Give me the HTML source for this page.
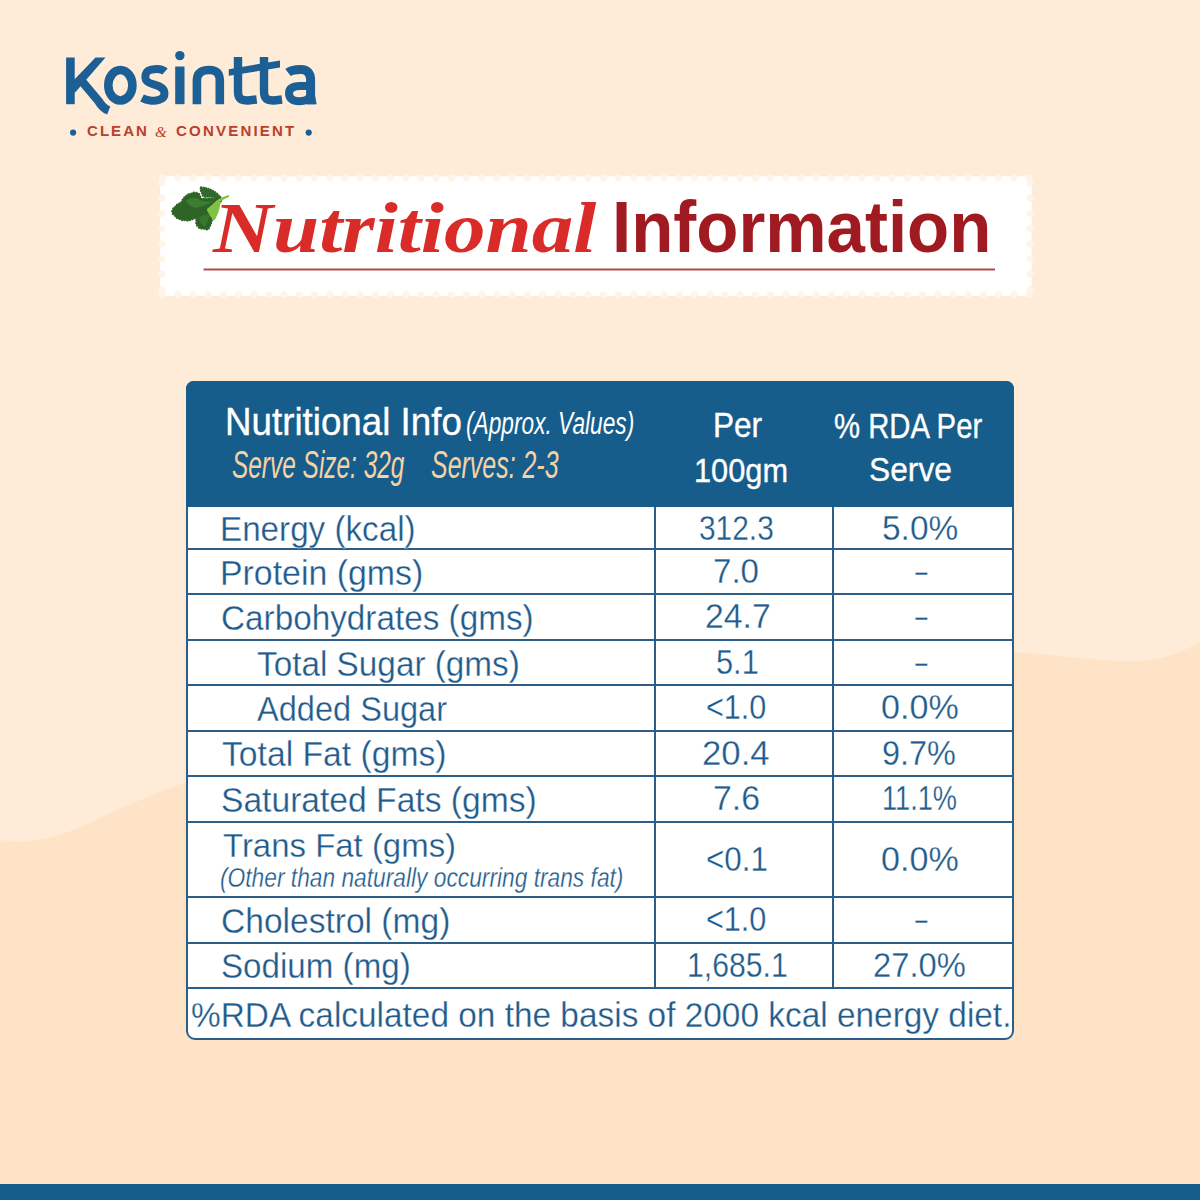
<!DOCTYPE html>
<html><head><meta charset="utf-8"><style>
html,body{margin:0;padding:0;}
body{width:1200px;height:1200px;position:relative;overflow:hidden;background:#feecd8;font-family:"Liberation Sans",sans-serif;}
.t{position:absolute;white-space:pre;line-height:1;transform-origin:0 0;}
svg{position:absolute;left:0;top:0;}
.hl{position:absolute;left:187px;width:826px;height:2px;background:#2c5e88;}
.vl{position:absolute;top:507px;height:481px;width:2px;background:#2c5e88;}
</style></head><body>
<svg width="1200" height="1200" viewBox="0 0 1200 1200">
<path d="M0,840 C30,845 60,838 100,818 C130,803 160,792 186,782 C386,702 763,635 1013,652 C1080,657 1120,664 1150,660 C1170,657 1185,650 1200,642 L1200,1200 L0,1200 Z" fill="#fee3c6"/>
<rect x="0" y="1184" width="1200" height="16" fill="#175d89"/>
<rect x="160" y="176.3" width="871.6" height="119.7" fill="#ffffff"/>
<g fill="#fff4e9"><circle cx="162.6" cy="177.8" r="3.6"/><circle cx="162.6" cy="294.5" r="3.6"/><circle cx="177.8" cy="177.8" r="3.6"/><circle cx="177.8" cy="294.5" r="3.6"/><circle cx="193.0" cy="177.8" r="3.6"/><circle cx="193.0" cy="294.5" r="3.6"/><circle cx="208.2" cy="177.8" r="3.6"/><circle cx="208.2" cy="294.5" r="3.6"/><circle cx="223.4" cy="177.8" r="3.6"/><circle cx="223.4" cy="294.5" r="3.6"/><circle cx="238.6" cy="177.8" r="3.6"/><circle cx="238.6" cy="294.5" r="3.6"/><circle cx="253.8" cy="177.8" r="3.6"/><circle cx="253.8" cy="294.5" r="3.6"/><circle cx="269.0" cy="177.8" r="3.6"/><circle cx="269.0" cy="294.5" r="3.6"/><circle cx="284.2" cy="177.8" r="3.6"/><circle cx="284.2" cy="294.5" r="3.6"/><circle cx="299.4" cy="177.8" r="3.6"/><circle cx="299.4" cy="294.5" r="3.6"/><circle cx="314.6" cy="177.8" r="3.6"/><circle cx="314.6" cy="294.5" r="3.6"/><circle cx="329.8" cy="177.8" r="3.6"/><circle cx="329.8" cy="294.5" r="3.6"/><circle cx="345.0" cy="177.8" r="3.6"/><circle cx="345.0" cy="294.5" r="3.6"/><circle cx="360.2" cy="177.8" r="3.6"/><circle cx="360.2" cy="294.5" r="3.6"/><circle cx="375.4" cy="177.8" r="3.6"/><circle cx="375.4" cy="294.5" r="3.6"/><circle cx="390.6" cy="177.8" r="3.6"/><circle cx="390.6" cy="294.5" r="3.6"/><circle cx="405.8" cy="177.8" r="3.6"/><circle cx="405.8" cy="294.5" r="3.6"/><circle cx="421.0" cy="177.8" r="3.6"/><circle cx="421.0" cy="294.5" r="3.6"/><circle cx="436.2" cy="177.8" r="3.6"/><circle cx="436.2" cy="294.5" r="3.6"/><circle cx="451.4" cy="177.8" r="3.6"/><circle cx="451.4" cy="294.5" r="3.6"/><circle cx="466.6" cy="177.8" r="3.6"/><circle cx="466.6" cy="294.5" r="3.6"/><circle cx="481.8" cy="177.8" r="3.6"/><circle cx="481.8" cy="294.5" r="3.6"/><circle cx="497.0" cy="177.8" r="3.6"/><circle cx="497.0" cy="294.5" r="3.6"/><circle cx="512.2" cy="177.8" r="3.6"/><circle cx="512.2" cy="294.5" r="3.6"/><circle cx="527.4" cy="177.8" r="3.6"/><circle cx="527.4" cy="294.5" r="3.6"/><circle cx="542.6" cy="177.8" r="3.6"/><circle cx="542.6" cy="294.5" r="3.6"/><circle cx="557.8" cy="177.8" r="3.6"/><circle cx="557.8" cy="294.5" r="3.6"/><circle cx="573.0" cy="177.8" r="3.6"/><circle cx="573.0" cy="294.5" r="3.6"/><circle cx="588.2" cy="177.8" r="3.6"/><circle cx="588.2" cy="294.5" r="3.6"/><circle cx="603.4" cy="177.8" r="3.6"/><circle cx="603.4" cy="294.5" r="3.6"/><circle cx="618.6" cy="177.8" r="3.6"/><circle cx="618.6" cy="294.5" r="3.6"/><circle cx="633.8" cy="177.8" r="3.6"/><circle cx="633.8" cy="294.5" r="3.6"/><circle cx="649.0" cy="177.8" r="3.6"/><circle cx="649.0" cy="294.5" r="3.6"/><circle cx="664.2" cy="177.8" r="3.6"/><circle cx="664.2" cy="294.5" r="3.6"/><circle cx="679.4" cy="177.8" r="3.6"/><circle cx="679.4" cy="294.5" r="3.6"/><circle cx="694.6" cy="177.8" r="3.6"/><circle cx="694.6" cy="294.5" r="3.6"/><circle cx="709.8" cy="177.8" r="3.6"/><circle cx="709.8" cy="294.5" r="3.6"/><circle cx="725.0" cy="177.8" r="3.6"/><circle cx="725.0" cy="294.5" r="3.6"/><circle cx="740.2" cy="177.8" r="3.6"/><circle cx="740.2" cy="294.5" r="3.6"/><circle cx="755.4" cy="177.8" r="3.6"/><circle cx="755.4" cy="294.5" r="3.6"/><circle cx="770.6" cy="177.8" r="3.6"/><circle cx="770.6" cy="294.5" r="3.6"/><circle cx="785.8" cy="177.8" r="3.6"/><circle cx="785.8" cy="294.5" r="3.6"/><circle cx="801.0" cy="177.8" r="3.6"/><circle cx="801.0" cy="294.5" r="3.6"/><circle cx="816.2" cy="177.8" r="3.6"/><circle cx="816.2" cy="294.5" r="3.6"/><circle cx="831.4" cy="177.8" r="3.6"/><circle cx="831.4" cy="294.5" r="3.6"/><circle cx="846.6" cy="177.8" r="3.6"/><circle cx="846.6" cy="294.5" r="3.6"/><circle cx="861.8" cy="177.8" r="3.6"/><circle cx="861.8" cy="294.5" r="3.6"/><circle cx="877.0" cy="177.8" r="3.6"/><circle cx="877.0" cy="294.5" r="3.6"/><circle cx="892.2" cy="177.8" r="3.6"/><circle cx="892.2" cy="294.5" r="3.6"/><circle cx="907.4" cy="177.8" r="3.6"/><circle cx="907.4" cy="294.5" r="3.6"/><circle cx="922.6" cy="177.8" r="3.6"/><circle cx="922.6" cy="294.5" r="3.6"/><circle cx="937.8" cy="177.8" r="3.6"/><circle cx="937.8" cy="294.5" r="3.6"/><circle cx="953.0" cy="177.8" r="3.6"/><circle cx="953.0" cy="294.5" r="3.6"/><circle cx="968.2" cy="177.8" r="3.6"/><circle cx="968.2" cy="294.5" r="3.6"/><circle cx="983.4" cy="177.8" r="3.6"/><circle cx="983.4" cy="294.5" r="3.6"/><circle cx="998.6" cy="177.8" r="3.6"/><circle cx="998.6" cy="294.5" r="3.6"/><circle cx="1013.8" cy="177.8" r="3.6"/><circle cx="1013.8" cy="294.5" r="3.6"/><circle cx="1029.0" cy="177.8" r="3.6"/><circle cx="1029.0" cy="294.5" r="3.6"/><circle cx="161.5" cy="183.0" r="3.6"/><circle cx="1030.1" cy="183.0" r="3.6"/><circle cx="161.5" cy="198.2" r="3.6"/><circle cx="1030.1" cy="198.2" r="3.6"/><circle cx="161.5" cy="213.4" r="3.6"/><circle cx="1030.1" cy="213.4" r="3.6"/><circle cx="161.5" cy="228.6" r="3.6"/><circle cx="1030.1" cy="228.6" r="3.6"/><circle cx="161.5" cy="243.8" r="3.6"/><circle cx="1030.1" cy="243.8" r="3.6"/><circle cx="161.5" cy="259.0" r="3.6"/><circle cx="1030.1" cy="259.0" r="3.6"/><circle cx="161.5" cy="274.1" r="3.6"/><circle cx="1030.1" cy="274.1" r="3.6"/><circle cx="161.5" cy="289.4" r="3.6"/><circle cx="1030.1" cy="289.4" r="3.6"/></g>
<rect x="203.5" y="268.5" width="791.5" height="2" fill="#b24a4a"/>
<g fill="#1c5f94">
<rect x="66.1" y="57.5" width="8.6" height="46.7"/>
<polygon points="72,82 95.5,57.5 105.5,57.5 74.7,93"/>
<rect x="175.2" y="66.5" width="9.3" height="37.7"/>
<circle cx="179.85" cy="55.6" r="4.7"/>
<polygon points="228.75,69.2 280,60.4 280,67.5 228.75,75.8"/>
</g>
<g fill="none" stroke="#1c5f94" stroke-width="8.6">
<path d="M80,79 L98.5,101 Q102.5,108 108.7,110.5"/>
<ellipse cx="120.35" cy="85.25" rx="12.05" ry="15.25"/>
<path d="M165,71.5 C160,67 153,69.5 150,70 C144.5,71.5 145,78 146,80 C149,86 164,83.5 164.5,93 C165,101 154,101 150,100.5 C146,100 144,99 142,98" stroke-width="8"/>
<path d="M196.9,104.2 L196.9,80 C196.9,72 203,70 209,70 C216,70 219.8,73 219.8,81 L219.8,104.2"/>
<path d="M238,57 L238,91 C238,99 241,100.5 248,100.5 L256.7,99.5" stroke-width="8.4"/>
<path d="M264,57 L264,91 C264,99 267,100.5 274,100.5 L282,99.5" stroke-width="8.4"/>
<path d="M288,72.5 C292,69.5 297,69.6 301,69.6 C307,69.6 310.6,73 310.6,80 L310.6,104.2" stroke-width="9"/><polygon points="306.1,104.2 316.7,104.2 315.1,96 306.1,96" fill="#1c5f94" stroke="none"/>
<path d="M310.4,85.9 L300,85.9 C292,85.9 289,89 289,93.5 C289,98.5 293,101.2 299,101.2 C305,101.2 309,99 310.4,96" stroke-width="8"/>
</g>
<circle cx="73.1" cy="132.6" r="3.1" fill="#1c5f94"/>
<circle cx="308.7" cy="132.6" r="3.1" fill="#1c5f94"/>
</svg>
<div style="position:absolute;left:186px;top:381px;width:824px;height:655px;border:2px solid #2c5e88;border-radius:8px 8px 9px 9px;background:#fff;"></div>
<div style="position:absolute;left:186px;top:381px;width:828px;height:126px;border-radius:8px 8px 0 0;background:#175d8b;"></div>
<div class="hl" style="top:548.4px"></div><div class="hl" style="top:593.0px"></div><div class="hl" style="top:639.2px"></div><div class="hl" style="top:684.4px"></div><div class="hl" style="top:729.5px"></div><div class="hl" style="top:775.0px"></div><div class="hl" style="top:820.5px"></div><div class="hl" style="top:895.8px"></div><div class="hl" style="top:941.6px"></div><div class="hl" style="top:986.8px"></div>
<div class="vl" style="left:654.4px"></div>
<div class="vl" style="left:832px"></div>
<svg width="1200" height="1200" viewBox="0 0 1200 1200" id="parsley">
<g>
<path d="M172.5,211.3 Q173,208 175.5,207 Q177,204 181.3,203.3 Q182.5,199 186.1,196.3 Q188,194 190.9,194.2 Q193,192 195.7,193.1 Q199,193 199.5,195.8 L201,199 Q208,199 216,198.5 L220.3,197 L222,199.5 Q216,206 211.7,220.3 Q210,226 208,229.4 Q205,229 203,228 Q200,229 198.9,227.3 Q195.5,224 196.8,221.9 Q196,218 197.9,216 Q194,219 190.9,219.3 Q188,221 185.6,219.8 Q182,220.5 179.7,218.7 Q176,218 174.9,215 Q172,214 172.5,211.3 Z" fill="#2f6427" stroke="#2f6427" stroke-width="2.6" stroke-linecap="round" stroke-dasharray="0.1 2.6"/>
<path d="M186,200 Q195,196 200,200 Q207,203 214,201 Q205,206 196,208 Q188,206 186,200 Z" fill="#3f8534" opacity="0.8"/>
<path d="M199,218 Q204,214 210,214 Q208,222 205,227 Q200,224 199,218 Z" fill="#3b7d31" opacity="0.8"/>
<path d="M201,187.3 Q204,187.5 206.4,188.3 Q210,189 213.3,191 Q217,193 220,197 L218,198.5 Q212,196 205.3,196.9 Q202,196 202.1,193.7 Q200,190 201,187.3 Z" fill="#2f6a2a" stroke="#2f6a2a" stroke-width="2.2" stroke-linecap="round" stroke-dasharray="0.1 2.4"/>
<path d="M228.8,195 L229.3,196.8 Q224,199 220.5,201.5 Q220,210 216,217.7 Q214.5,221 213.3,220.3 Q210,216 208.5,212.9 Q206,210 207.5,208.6 Q212,205 215,202 Q219,198 228.8,195 Z" fill="#80c343"/>
</g>
</svg>
<div class="t" style="left:86.70px;top:124.48px;font-family:'Liberation Sans';font-size:14.49px;font-weight:bold;font-style:normal;color:#bb3f2c;transform:scaleX(1.0400);letter-spacing:1.94px;">CLEAN</div><div class="t" style="left:175.70px;top:124.48px;font-family:'Liberation Sans';font-size:14.49px;font-weight:bold;font-style:normal;color:#bb3f2c;transform:scaleX(1.0400);letter-spacing:2.09px;">CONVENIENT</div><div class="t" style="left:155.29px;top:123.88px;font-family:'Liberation Serif';font-size:15.44px;font-weight:normal;font-style:italic;color:#bb3f2c;transform:scaleX(0.9847);">&amp;</div><div class="t" style="left:213.33px;top:191.91px;font-family:'Liberation Serif';font-size:72.73px;font-weight:bold;font-style:italic;color:#d92b27;transform:scaleX(1.1429);">Nutritional</div><div class="t" style="left:612.17px;top:190.91px;font-family:'Liberation Sans';font-size:72.46px;font-weight:bold;font-style:normal;color:#a01b21;transform:scaleX(0.9521);">Information</div><div class="t" style="left:224.56px;top:403.03px;font-family:'Liberation Sans';font-size:38.55px;font-weight:normal;font-style:normal;color:#ffffff;transform:scaleX(0.9528);-webkit-text-stroke:0.35px #ffffff;">Nutritional Info</div><div class="t" style="left:465.66px;top:408.20px;font-family:'Liberation Sans';font-size:31.88px;font-weight:normal;font-style:italic;color:#ffffff;transform:scaleX(0.7123);">(Approx. Values)</div><div class="t" style="left:231.77px;top:446.31px;font-family:'Liberation Sans';font-size:38.70px;font-weight:normal;font-style:italic;color:#f5d2a3;transform:scaleX(0.6313);">Serve Size: 32g</div><div class="t" style="left:430.55px;top:446.29px;font-family:'Liberation Sans';font-size:38.84px;font-weight:normal;font-style:italic;color:#f5d2a3;transform:scaleX(0.6424);">Serves: 2-3</div><div class="t" style="left:712.98px;top:408.32px;font-family:'Liberation Sans';font-size:35.51px;font-weight:normal;font-style:normal;color:#ffffff;transform:scaleX(0.8873);-webkit-text-stroke:0.35px #ffffff;">Per</div><div class="t" style="left:694.04px;top:452.55px;font-family:'Liberation Sans';font-size:34.06px;font-weight:normal;font-style:normal;color:#ffffff;transform:scaleX(0.9030);-webkit-text-stroke:0.35px #ffffff;">100gm</div><div class="t" style="left:834.43px;top:408.63px;font-family:'Liberation Sans';font-size:34.78px;font-weight:normal;font-style:normal;color:#ffffff;transform:scaleX(0.8429);-webkit-text-stroke:0.35px #ffffff;">% RDA Per</div><div class="t" style="left:869.41px;top:453.07px;font-family:'Liberation Sans';font-size:33.33px;font-weight:normal;font-style:normal;color:#ffffff;transform:scaleX(0.9524);-webkit-text-stroke:0.35px #ffffff;">Serve</div><div class="t" style="left:220.34px;top:512.38px;font-family:'Liberation Sans';font-size:34.49px;font-weight:normal;font-style:normal;color:#1f5b8c;transform:scaleX(0.9630);-webkit-text-stroke:0.3px #ffffff;">Energy (kcal)</div><div class="t" style="left:699.40px;top:510.57px;font-family:'Liberation Sans';font-size:35.51px;font-weight:normal;font-style:normal;color:#1f5b8c;transform:scaleX(0.8414);-webkit-text-stroke:0.3px #ffffff;">312.3</div><div class="t" style="left:881.66px;top:510.57px;font-family:'Liberation Sans';font-size:35.51px;font-weight:normal;font-style:normal;color:#1f5b8c;transform:scaleX(0.9422);-webkit-text-stroke:0.3px #ffffff;">5.0%</div><div class="t" style="left:220.29px;top:555.88px;font-family:'Liberation Sans';font-size:34.49px;font-weight:normal;font-style:normal;color:#1f5b8c;transform:scaleX(0.9821);-webkit-text-stroke:0.3px #ffffff;">Protein (gms)</div><div class="t" style="left:713.35px;top:554.07px;font-family:'Liberation Sans';font-size:35.51px;font-weight:normal;font-style:normal;color:#1f5b8c;transform:scaleX(0.9316);-webkit-text-stroke:0.3px #ffffff;">7.0</div><div class="t" style="left:913.00px;top:554.07px;font-family:'Liberation Sans';font-size:35.51px;font-weight:normal;font-style:normal;color:#1f5b8c;transform:scaleX(1.4082);-webkit-text-stroke:0.3px #ffffff;">-</div><div class="t" style="left:221.34px;top:601.28px;font-family:'Liberation Sans';font-size:34.49px;font-weight:normal;font-style:normal;color:#1f5b8c;transform:scaleX(0.9653);-webkit-text-stroke:0.3px #ffffff;">Carbohydrates (gms)</div><div class="t" style="left:704.81px;top:599.47px;font-family:'Liberation Sans';font-size:35.51px;font-weight:normal;font-style:normal;color:#1f5b8c;transform:scaleX(0.9515);-webkit-text-stroke:0.3px #ffffff;">24.7</div><div class="t" style="left:913.00px;top:599.47px;font-family:'Liberation Sans';font-size:35.51px;font-weight:normal;font-style:normal;color:#1f5b8c;transform:scaleX(1.4082);-webkit-text-stroke:0.3px #ffffff;">-</div><div class="t" style="left:256.83px;top:646.98px;font-family:'Liberation Sans';font-size:34.49px;font-weight:normal;font-style:normal;color:#1f5b8c;transform:scaleX(0.9659);-webkit-text-stroke:0.3px #ffffff;">Total Sugar (gms)</div><div class="t" style="left:716.27px;top:645.17px;font-family:'Liberation Sans';font-size:35.51px;font-weight:normal;font-style:normal;color:#1f5b8c;transform:scaleX(0.8666);-webkit-text-stroke:0.3px #ffffff;">5.1</div><div class="t" style="left:913.00px;top:645.17px;font-family:'Liberation Sans';font-size:35.51px;font-weight:normal;font-style:normal;color:#1f5b8c;transform:scaleX(1.4082);-webkit-text-stroke:0.3px #ffffff;">-</div><div class="t" style="left:257.00px;top:692.13px;font-family:'Liberation Sans';font-size:34.49px;font-weight:normal;font-style:normal;color:#1f5b8c;transform:scaleX(0.9440);-webkit-text-stroke:0.3px #ffffff;">Added Sugar</div><div class="t" style="left:705.97px;top:690.32px;font-family:'Liberation Sans';font-size:35.51px;font-weight:normal;font-style:normal;color:#1f5b8c;transform:scaleX(0.8614);-webkit-text-stroke:0.3px #ffffff;">&lt;1.0</div><div class="t" style="left:881.14px;top:690.32px;font-family:'Liberation Sans';font-size:35.51px;font-weight:normal;font-style:normal;color:#1f5b8c;transform:scaleX(0.9601);-webkit-text-stroke:0.3px #ffffff;">0.0%</div><div class="t" style="left:222.33px;top:737.43px;font-family:'Liberation Sans';font-size:34.49px;font-weight:normal;font-style:normal;color:#1f5b8c;transform:scaleX(0.9767);-webkit-text-stroke:0.3px #ffffff;">Total Fat (gms)</div><div class="t" style="left:702.26px;top:735.62px;font-family:'Liberation Sans';font-size:35.51px;font-weight:normal;font-style:normal;color:#1f5b8c;transform:scaleX(0.9789);-webkit-text-stroke:0.3px #ffffff;">20.4</div><div class="t" style="left:882.38px;top:735.62px;font-family:'Liberation Sans';font-size:35.51px;font-weight:normal;font-style:normal;color:#1f5b8c;transform:scaleX(0.9131);-webkit-text-stroke:0.3px #ffffff;">9.7%</div><div class="t" style="left:221.32px;top:782.93px;font-family:'Liberation Sans';font-size:34.49px;font-weight:normal;font-style:normal;color:#1f5b8c;transform:scaleX(0.9747);-webkit-text-stroke:0.3px #ffffff;">Saturated Fats (gms)</div><div class="t" style="left:713.31px;top:781.12px;font-family:'Liberation Sans';font-size:35.51px;font-weight:normal;font-style:normal;color:#1f5b8c;transform:scaleX(0.9532);-webkit-text-stroke:0.3px #ffffff;">7.6</div><div class="t" style="left:881.83px;top:781.12px;font-family:'Liberation Sans';font-size:35.51px;font-weight:normal;font-style:normal;color:#1f5b8c;transform:scaleX(0.7652);-webkit-text-stroke:0.3px #ffffff;">11.1%</div><div class="t" style="left:222.84px;top:828.80px;font-family:'Liberation Sans';font-size:33.77px;font-weight:normal;font-style:normal;color:#1f5b8c;transform:scaleX(0.9757);-webkit-text-stroke:0.3px #ffffff;">Trans Fat (gms)</div><div class="t" style="left:220.36px;top:863.59px;font-family:'Liberation Sans';font-size:27.54px;font-weight:normal;font-style:italic;color:#1f5b8c;transform:scaleX(0.8265);-webkit-text-stroke:0.3px #ffffff;">(Other than naturally occurring trans fat)</div><div class="t" style="left:705.93px;top:841.52px;font-family:'Liberation Sans';font-size:35.51px;font-weight:normal;font-style:normal;color:#1f5b8c;transform:scaleX(0.8838);-webkit-text-stroke:0.3px #ffffff;">&lt;0.1</div><div class="t" style="left:881.14px;top:841.52px;font-family:'Liberation Sans';font-size:35.51px;font-weight:normal;font-style:normal;color:#1f5b8c;transform:scaleX(0.9601);-webkit-text-stroke:0.3px #ffffff;">0.0%</div><div class="t" style="left:221.32px;top:903.88px;font-family:'Liberation Sans';font-size:34.49px;font-weight:normal;font-style:normal;color:#1f5b8c;transform:scaleX(0.9729);-webkit-text-stroke:0.3px #ffffff;">Cholestrol (mg)</div><div class="t" style="left:705.97px;top:902.07px;font-family:'Liberation Sans';font-size:35.51px;font-weight:normal;font-style:normal;color:#1f5b8c;transform:scaleX(0.8614);-webkit-text-stroke:0.3px #ffffff;">&lt;1.0</div><div class="t" style="left:913.00px;top:902.07px;font-family:'Liberation Sans';font-size:35.51px;font-weight:normal;font-style:normal;color:#1f5b8c;transform:scaleX(1.4082);-webkit-text-stroke:0.3px #ffffff;">-</div><div class="t" style="left:221.34px;top:949.38px;font-family:'Liberation Sans';font-size:34.49px;font-weight:normal;font-style:normal;color:#1f5b8c;transform:scaleX(0.9612);-webkit-text-stroke:0.3px #ffffff;">Sodium (mg)</div><div class="t" style="left:686.58px;top:947.57px;font-family:'Liberation Sans';font-size:35.51px;font-weight:normal;font-style:normal;color:#1f5b8c;transform:scaleX(0.8510);-webkit-text-stroke:0.3px #ffffff;">1,685.1</div><div class="t" style="left:873.36px;top:947.57px;font-family:'Liberation Sans';font-size:35.51px;font-weight:normal;font-style:normal;color:#1f5b8c;transform:scaleX(0.9217);-webkit-text-stroke:0.3px #ffffff;">27.0%</div><div class="t" style="left:191.16px;top:996.57px;font-family:'Liberation Sans';font-size:35.22px;font-weight:normal;font-style:normal;color:#1f5b8c;transform:scaleX(0.9481);-webkit-text-stroke:0.3px #ffffff;">%RDA calculated on the basis of 2000 kcal energy diet.</div>
</body></html>
